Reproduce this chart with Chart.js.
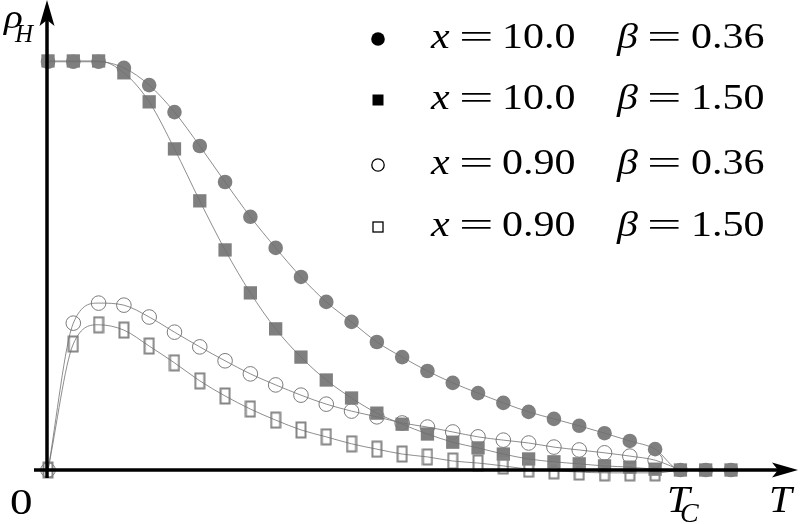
<!DOCTYPE html>
<html>
<head>
<meta charset="utf-8">
<script src="https://cdn.jsdelivr.net/npm/chart.js@4/dist/chart.umd.min.js"></script>
<style>
    html, body { margin: 0; padding: 0; background: #fff; }
    #wrap { width: 800px; height: 524px; }
</style>
</head>
<body>
<div id="wrap"><canvas id="rho-chart" width="800" height="524"></canvas></div>
<script>
// temperature steps (T axis, arbitrary units), Tc at step 25
var temps = [0, 1, 2, 3, 4, 5, 6, 7, 8, 9, 10, 11, 12, 13, 14, 15, 16, 17, 18, 19, 20, 21, 22, 23, 24, 25, 26, 27];
var tcStep = 25;

// rho_H, normalised to the low-T plateau
var rhoX10B036 = [0.998, 0.998, 0.998, 0.983, 0.941, 0.875, 0.792, 0.704, 0.619, 0.543, 0.472, 0.411, 0.362, 0.313,
    0.276, 0.242, 0.213, 0.188, 0.164, 0.142, 0.125, 0.108, 0.090, 0.071, 0.051, 0, 0, 0];
var rhoX10B150 = [1.0, 1.0, 1.0, 0.971, 0.900, 0.785, 0.658, 0.538, 0.433, 0.345, 0.276, 0.220, 0.176, 0.139,
    0.112, 0.088, 0.068, 0.054, 0.039, 0.027, 0.020, 0.015, 0.010, 0.007, 0.002, 0, 0, 0];
var rhoX09B036 = [0, 0.359, 0.408, 0.403, 0.374, 0.337, 0.301, 0.267, 0.235, 0.208, 0.183, 0.161, 0.144, 0.130,
    0.115, 0.105, 0.093, 0.081, 0.073, 0.066, 0.056, 0.049, 0.042, 0.034, 0.024];
var rhoX09B150 = [0, 0.308, 0.355, 0.342, 0.303, 0.262, 0.218, 0.181, 0.149, 0.122, 0.098, 0.081, 0.064, 0.051,
    0.039, 0.032, 0.022, 0.017, 0.010, 0.002, -0.002, -0.005, -0.007, -0.007, -0.007];

var legendLabels = [
    ["x", "10.0", "0.36"],
    ["x", "10.0", "1.50"],
    ["x", "0.90", "0.36"],
    ["x", "0.90", "1.50"]
];

var GREY = "#7f7f7f";
var SERIF = "'Liberation Serif', 'Times New Roman', serif";

function toPoints(values) {
    return values.map(function (v, i) { return {x: temps[i], y: v}; });
}

// fitted curves end on the axis at Tc
function toCurve(values) {
    var pts = toPoints(values);
    if (values.length <= tcStep) pts.push({x: temps[tcStep], y: 0});
    return pts;
}

// open squares are drawn as tall rectangles
var openRect = document.createElement("canvas");
openRect.width = 12;
openRect.height = 18;
(function () {
    var c = openRect.getContext("2d");
    c.strokeStyle = "#858585";
    c.lineWidth = 2;
    c.strokeRect(1.5, 1.5, 9, 15);
})();

function curve(values) {
    return {
        data: toCurve(values),
        showLine: true,
        borderColor: "#707070",
        borderWidth: 0.8,
        pointRadius: 0,
        cubicInterpolationMode: "monotone",
        clip: false,
        order: 0
    };
}

function stretchText(ctx, text, x, y, font, sx) {
    ctx.save();
    ctx.font = font;
    ctx.translate(x, y);
    ctx.scale(sx || 1, 1);
    ctx.fillText(text, 0, 0);
    ctx.restore();
}

var decorations = {
    id: "decorations",
    afterDatasetsDraw: function (chart) {
        var ctx = chart.ctx;
        var ax = 47, ay = 470;
        ctx.save();
        ctx.strokeStyle = "#000";
        ctx.fillStyle = "#000";
        ctx.lineWidth = 3.5;
        // axes
        ctx.beginPath();
        ctx.moveTo(ax, 478);
        ctx.lineTo(ax, 20);
        ctx.moveTo(34, ay);
        ctx.lineTo(780, ay);
        ctx.stroke();
        // arrow heads
        ctx.beginPath();
        ctx.moveTo(ax, 0);
        ctx.lineTo(ax + 7.5, 26);
        ctx.lineTo(ax, 20);
        ctx.lineTo(ax - 7.5, 26);
        ctx.closePath();
        ctx.fill();
        ctx.beginPath();
        ctx.moveTo(798, ay);
        ctx.lineTo(772, ay - 7.5);
        ctx.lineTo(778, ay);
        ctx.lineTo(772, ay + 7.5);
        ctx.closePath();
        ctx.fill();

        // axis labels
        ctx.textBaseline = "alphabetic";
        stretchText(ctx, "\u03C1", 4, 28, "italic 34px " + SERIF, 1.15);
        stretchText(ctx, "H", 15, 42, "italic 25px " + SERIF);
        stretchText(ctx, "0", 10, 514, "36px " + SERIF, 1.25);
        stretchText(ctx, "T", 667, 512, "italic 38px " + SERIF, 1.08);
        stretchText(ctx, "C", 680, 522, "italic 28px " + SERIF);
        stretchText(ctx, "T", 769, 512, "italic 38px " + SERIF, 1.08);

        // legend
        var baselines = [48, 109, 174, 236];
        var mx = 378;
        legendLabels.forEach(function (lab, k) {
            var by = baselines[k];
            var my = by - 9;
            ctx.lineWidth = 1.3;
            if (k === 0) {
                ctx.beginPath(); ctx.arc(mx, my, 6.8, 0, 2 * Math.PI); ctx.fill();
            } else if (k === 1) {
                ctx.fillRect(mx - 5.5, my - 5.5, 11, 11);
            } else if (k === 2) {
                ctx.beginPath(); ctx.arc(mx, my, 6.2, 0, 2 * Math.PI); ctx.stroke();
            } else {
                ctx.strokeRect(mx - 5, my - 5, 10, 10);
            }
            stretchText(ctx, lab[0], 431, by, "italic 35px " + SERIF, 1.2);
            stretchText(ctx, "=", 459, by, "34px " + SERIF, 1.8);
            stretchText(ctx, lab[1], 502, by, "35px " + SERIF, 1.2);
            stretchText(ctx, "\u03B2", 617, by, "italic 35px " + SERIF, 1.2);
            stretchText(ctx, "=", 647, by, "34px " + SERIF, 1.8);
            stretchText(ctx, lab[2], 691, by, "35px " + SERIF, 1.2);
        });
        ctx.restore();
    }
};

function drawChart() {
    var ctx = document.getElementById("rho-chart").getContext("2d");
    new Chart(ctx, {
        type: "scatter",
        data: {
            datasets: [
                curve(rhoX10B036),
                curve(rhoX10B150),
                curve(rhoX09B036),
                curve(rhoX09B150),
                {
                    data: toPoints(rhoX10B036),
                    pointStyle: "circle",
                    pointRadius: 7.3,
                    backgroundColor: GREY,
                    borderWidth: 0,
                    clip: false,
                    order: 1
                },
                {
                    data: toPoints(rhoX10B150),
                    pointStyle: "rect",
                    pointRadius: 9.4,
                    backgroundColor: GREY,
                    borderWidth: 0,
                    clip: false,
                    order: 2
                },
                {
                    data: toPoints(rhoX09B036),
                    pointStyle: "circle",
                    pointRadius: 7.3,
                    backgroundColor: "rgba(255,255,255,0)",
                    borderColor: "#7a7a7a",
                    borderWidth: 1,
                    clip: false,
                    order: 1
                },
                {
                    data: toPoints(rhoX09B150),
                    pointStyle: openRect,
                    clip: false,
                    order: 1
                }
            ]
        },
        options: {
            responsive: false,
            animation: false,
            events: [],
            layout: {autoPadding: false, padding: {left: 47, right: 5, top: 0, bottom: 54}},
            plugins: {legend: {display: false}, tooltip: {enabled: false}},
            scales: {
                x: {type: "linear", display: false, min: -0.0395, max: 29.53},
                y: {type: "linear", display: false, min: 0, max: 1.149}
            }
        },
        plugins: [decorations]
    });
}

Promise.all([
    document.fonts.load("35px 'Liberation Serif'"),
    document.fonts.load("italic 35px 'Liberation Serif'")
]).then(drawChart, drawChart);
</script>
</body>
</html>
